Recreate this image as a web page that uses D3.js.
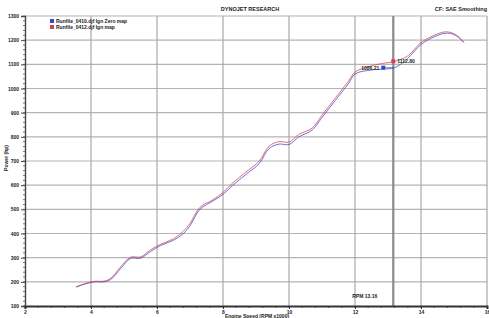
<!DOCTYPE html>
<html>
<head>
<meta charset="utf-8">
<script src="https://cdn.jsdelivr.net/npm/d3@7"></script>
<style>
  body { margin: 0; background: #fff; }
  text { font-family: "Liberation Sans", Arial, sans-serif; font-weight: bold; fill: #222; }
</style>
</head>
<body>
<div id="chart"></div>
<script>
// engine speed (RPM x1000) samples
const rpm = [3.55, 3.8, 4.1, 4.4, 4.6, 4.9, 5.2, 5.5, 5.8, 6.1, 6.5, 6.8, 7.0, 7.3, 7.7, 8.0, 8.3, 8.7,
    9.1, 9.4, 9.7, 10.0, 10.3, 10.7, 11.0, 11.4, 11.8, 12.0, 12.4, 12.8, 13.2, 13.6, 14.0, 14.4, 14.7, 14.9, 15.1, 15.3];

// Power (hp) for the two runs
const zeroMap = [178, 190, 200, 200, 210, 255, 297, 298, 325, 350, 372, 400, 432, 500, 535, 562, 600, 645,
    690, 752, 770, 768, 800, 828, 880, 950, 1020, 1060, 1075, 1080, 1086, 1125, 1182, 1214, 1228, 1228, 1215, 1190];
const ignMap = [180, 192, 202, 203, 215, 262, 302, 303, 332, 355, 378, 410, 442, 508, 540, 570, 610, 655,
    700, 762, 780, 778, 810, 836, 890, 960, 1030, 1068, 1090, 1103, 1112, 1135, 1190, 1220, 1234, 1232, 1218, 1192];

const seriesNames = ["Runfile_0410.djf Ign Zero map", "Runfile_0412.djf Ign map"];
const seriesColors = ["#3b43c8", "#d2414e"];

const xTicks = [2, 4, 6, 8, 10, 12, 14, 16];
const yTicks = [100, 200, 300, 400, 500, 600, 700, 800, 900, 1000, 1100, 1200, 1300];

// cursor readout
const cursorRpm = 13.16;
const cursorValues = [1086.21, 1112.80];

const W = 489, H = 318;
const margin = { top: 16, right: 2, bottom: 12, left: 25 };

const svg = d3.select("#chart").append("svg")
    .attr("width", W)
    .attr("height", H);

const x = d3.scaleLinear().domain([2, 16]).range([margin.left, W - margin.right]);
const y = d3.scaleLinear().domain([100, 1300]).range([H - margin.bottom, margin.top]);

// grid
svg.append("g").selectAll("line")
    .data(yTicks.slice(1))
    .enter().append("line")
    .attr("x1", margin.left).attr("x2", W - margin.right)
    .attr("y1", d => y(d)).attr("y2", d => y(d))
    .attr("stroke", "#b4b4b4").attr("stroke-width", 1.2);

svg.append("g").selectAll("line")
    .data(xTicks.slice(1))
    .enter().append("line")
    .attr("x1", d => x(d)).attr("x2", d => x(d))
    .attr("y1", margin.top).attr("y2", y(100))
    .attr("stroke", "#a8a8a8").attr("stroke-width", 1.2);

// cursor line
svg.append("line")
    .attr("x1", x(cursorRpm)).attr("x2", x(cursorRpm))
    .attr("y1", margin.top).attr("y2", y(100))
    .attr("stroke", "#8a8a8a").attr("stroke-width", 2.2);

// Y axis
const yAxis = svg.append("g")
    .attr("transform", `translate(${margin.left},0)`)
    .call(d3.axisLeft(y).tickValues(yTicks).tickFormat(d3.format("d")).tickSize(4).tickPadding(2));
yAxis.select(".domain").attr("stroke", "#444").attr("stroke-width", 1.4);
yAxis.selectAll(".tick line").attr("stroke", "#444");
yAxis.selectAll("text").attr("font-size", 5).attr("font-weight", "bold").attr("fill", "#222").style("font-family", "Liberation Sans");

// minor y ticks
svg.append("g").selectAll("line")
    .data(d3.range(100, 1301, 20))
    .enter().append("line")
    .attr("x1", margin.left - 2).attr("x2", margin.left)
    .attr("y1", d => y(d)).attr("y2", d => y(d))
    .attr("stroke", "#555").attr("stroke-width", 0.8);

// X axis
const xAxis = svg.append("g")
    .attr("transform", `translate(0,${y(100)})`)
    .call(d3.axisBottom(x).tickValues(xTicks).tickSize(3).tickPadding(1));
xAxis.select(".domain").attr("stroke", "#333").attr("stroke-width", 2);
xAxis.selectAll(".tick line").attr("stroke", "#333");
xAxis.selectAll("text").attr("font-size", 5).attr("font-weight", "bold").attr("fill", "#222").style("font-family", "Liberation Sans");

// minor x ticks
svg.append("g").selectAll("line")
    .data(d3.range(2, 16.01, 0.4))
    .enter().append("line")
    .attr("x1", d => x(d)).attr("x2", d => x(d))
    .attr("y1", y(100)).attr("y2", y(100) + 2)
    .attr("stroke", "#333").attr("stroke-width", 0.8);

// axis titles
svg.append("text")
    .attr("transform", `translate(8,158) rotate(-90)`)
    .attr("text-anchor", "middle")
    .attr("font-size", 5)
    .text("Power (hp)");

svg.append("text")
    .attr("x", 257).attr("y", 318)
    .attr("text-anchor", "middle")
    .attr("font-size", 5)
    .text("Engine Speed (RPM x1000)");

// title + header
svg.append("text")
    .attr("x", 250).attr("y", 11)
    .attr("text-anchor", "middle")
    .attr("font-size", 5.5)
    .text("DYNOJET RESEARCH");

svg.append("text")
    .attr("x", 487).attr("y", 11)
    .attr("text-anchor", "end")
    .attr("font-size", 5.5)
    .text("CF: SAE  Smoothing");

// lines
const series = [zeroMap, ignMap];
const line = d3.line()
    .x((d, i) => x(rpm[i]))
    .y(d => y(d))
    .curve(d3.curveCatmullRom);

series.forEach((s, k) => {
    svg.append("path")
        .datum(s)
        .attr("fill", "none")
        .attr("stroke", seriesColors[k])
        .attr("stroke-opacity", 0.75)
        .attr("stroke-width", 1)
        .attr("d", line);
});

// legend
seriesNames.forEach((name, k) => {
    svg.append("rect")
        .attr("x", 50).attr("y", 19 + k * 6)
        .attr("width", 4).attr("height", 4)
        .attr("fill", seriesColors[k]);
    svg.append("text")
        .attr("x", 56).attr("y", 23 + k * 6)
        .attr("font-size", 5)
        .text(name);
});

// cursor markers
svg.append("rect")
    .attr("x", x(cursorRpm) - 12).attr("y", y(cursorValues[0]) - 2)
    .attr("width", 4).attr("height", 4)
    .attr("fill", seriesColors[0]);
svg.append("line")
    .attr("x1", x(cursorRpm) - 8).attr("x2", x(cursorRpm))
    .attr("y1", y(cursorValues[0])).attr("y2", y(cursorValues[0]))
    .attr("stroke", seriesColors[0]).attr("stroke-width", 0.7);
svg.append("text")
    .attr("x", x(cursorRpm) - 14).attr("y", y(cursorValues[0]) + 2)
    .attr("text-anchor", "end")
    .attr("font-size", 5)
    .text(cursorValues[0].toFixed(2));

svg.append("rect")
    .attr("x", x(cursorRpm) - 2).attr("y", y(cursorValues[1]) - 2)
    .attr("width", 4).attr("height", 4)
    .attr("fill", seriesColors[1]);
svg.append("text")
    .attr("x", x(cursorRpm) + 4).attr("y", y(cursorValues[1]) + 2)
    .attr("font-size", 5)
    .text(cursorValues[1].toFixed(2));

svg.append("text")
    .attr("x", x(cursorRpm) - 16).attr("y", y(100) - 8)
    .attr("text-anchor", "end")
    .attr("font-size", 5)
    .text("RPM " + cursorRpm.toFixed(2));
</script>
</body>
</html>
